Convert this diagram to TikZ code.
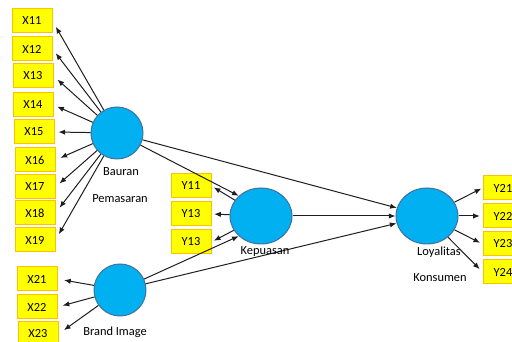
\documentclass[tikz,border=0pt]{standalone}
\usepackage{fontspec}
\setmainfont{Carlito}
\usetikzlibrary{arrows.meta,shapes.geometric}

\tikzset{every picture/.style={line width=0.75pt}}
\tikzset{
  indbox/.style={draw={rgb, 255:red, 255; green, 192; blue, 0 },fill={rgb, 255:red, 255; green, 255; blue, 0 },minimum width=30pt,minimum height=18pt,inner sep=0pt,font=\fontsize{9.3}{11}\selectfont},
  latent/.style={ellipse,draw={rgb, 255:red, 65; green, 113; blue, 156 },fill={rgb, 255:red, 0; green, 176; blue, 240 },inner sep=0pt},
  lbl/.style={inner sep=0.75pt,font=\fontsize{9.3}{11}\selectfont},
  path/.style={draw={rgb, 255:red, 30; green, 30; blue, 30 },-{Latex[length=5pt,width=4pt]}}
}

\begin{document}
\begin{tikzpicture}[x=0.75pt,y=0.75pt,yscale=-1,xscale=1]
\useasboundingbox (0,0) rectangle (512,342);

%Shape: Circle [id:bauran]
\node [latent,minimum width=39pt,minimum height=39pt] (bauran) at (117,133) {};
%Shape: Circle [id:brand]
\node [latent,minimum width=39pt,minimum height=39pt] (brand) at (120,290) {};
%Shape: Ellipse [id:kepuasan]
\node [latent,minimum width=46.5pt,minimum height=42pt] (kep) at (261,216) {};
%Shape: Ellipse [id:loyalitas]
\node [latent,minimum width=46.5pt,minimum height=42pt] (loy) at (427,216) {};

%Indicators Bauran Pemasaran
\node [indbox] (x11) at (32,21) {X11};
\node [indbox] (x12) at (32,49) {X12};
\node [indbox] (x13) at (33,76) {X13};
\node [indbox] (x14) at (33,105) {X14};
\node [indbox] (x15) at (34,132) {X15};
\node [indbox] (x16) at (35,160) {X16};
\node [indbox] (x17) at (35,187) {X17};
\node [indbox] (x18) at (35,213) {X18};
\node [indbox] (x19) at (35,240) {X19};
%Indicators Brand Image
\node [indbox] (x21) at (37,279) {X21};
\node [indbox] (x22) at (37,307) {X22};
\node [indbox] (x23) at (38,334) {X23};
%Indicators Kepuasan
\node [indbox] (y11) at (191,186) {Y11};
\node [indbox] (y12) at (191,214) {Y13};
\node [indbox] (y13) at (191,242) {Y13};
%Indicators Loyalitas Konsumen
\node [indbox] (y21) at (503,188) {Y21};
\node [indbox] (y22) at (503,216) {Y22};
\node [indbox] (y23) at (503,244) {Y23};
\node [indbox] (y24) at (503,272) {Y24};

%Straight Lines [loadings]
\draw [path,shorten >=5pt] (bauran) -- (x11.east);
\draw [path,shorten >=4pt] (bauran) -- (x12.east);
\draw [path,shorten >=4pt] (bauran) -- (x13.east);
\draw [path,shorten >=3pt] (bauran) -- (x14.east);
\draw [path,shorten >=3pt] (bauran) -- (x15.east);
\draw [path,shorten >=4pt] (bauran) -- (x16.east);
\draw [path,shorten >=4pt] (bauran) -- (x17.east);
\draw [path,shorten >=5pt] (bauran) -- (x18.east);
\draw [path,shorten >=5pt] (bauran) -- (x19.east);
\draw [path,shorten >=5pt] (brand) -- (x21.east);
\draw [path,shorten >=4pt] (brand) -- (x22.east);
\draw [path,shorten >=5pt] (brand) -- (x23.east);
\draw [path,shorten >=2pt] (kep) -- (y11.east);
\draw [path,shorten >=2pt] (kep) -- (y12.east);
\draw [path,shorten >=2pt] (kep) -- (y13.east);
\draw [path,shorten >=1pt] (loy) -- (y21.west);
\draw [path,shorten >=2pt] (loy) -- (y22.west);
\draw [path,shorten >=2pt] (loy) -- (y23.west);
\draw [path,shorten >=3pt] (loy) -- (y24.west);

%Straight Lines [structural]
\draw [path] (bauran) -- (kep.north west);
\draw [path] (bauran) -- (loy);
\draw [path] (kep) -- (loy);
\draw [path] (brand) -- (kep.south west);
\draw [path] (brand) -- (loy);

% Text Node
\node [lbl] (tbauran) at (121,172) {Bauran};
% Text Node
\node [lbl] (tpemasaran) at (120,199) {Pemasaran};
% Text Node
\node [lbl] (tbrand) at (115,332) {Brand Image};
% Text Node
\node [lbl] (tkep) at (265,252) {Kepuasan};
% Text Node
\node [lbl] (tloy) at (439,252) {Loyalitas};
% Text Node
\node [lbl] (tkons) at (440,278) {Konsumen};

\end{tikzpicture}
\end{document}
